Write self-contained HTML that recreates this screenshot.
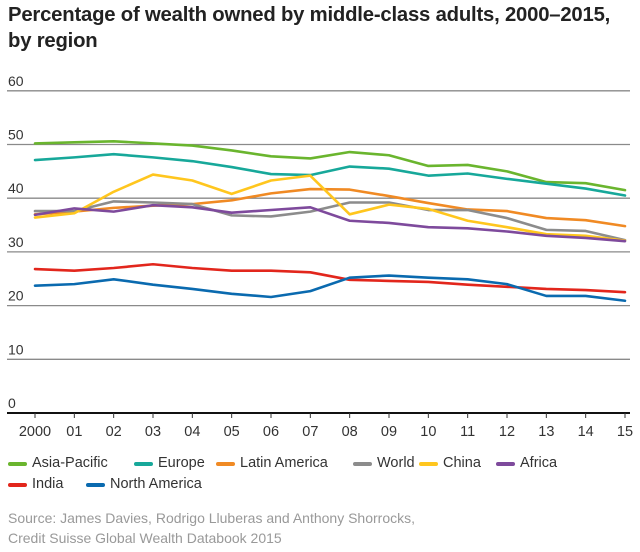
<!DOCTYPE html>
<html><head><meta charset="utf-8"><style>
body{margin:0;width:640px;height:552px;background:#fff;font-family:"Liberation Sans",sans-serif;position:relative;overflow:hidden}
.t{position:absolute;left:8px;top:2px;font-size:20.3px;font-weight:bold;color:#222;line-height:26px;letter-spacing:-0.2px}
.lg{position:absolute;font-size:14.5px;color:#333;line-height:18px;white-space:nowrap}
.sw{position:absolute;width:19px;height:4px;border-radius:2px}
.src{position:absolute;left:8px;top:508px;font-size:14px;color:#999;line-height:20px}
</style></head><body>
<div class="t">Percentage of wealth owned by middle-class adults, 2000–2015,<br>by region</div>
<svg id="c" width="640" height="440" style="position:absolute;left:0;top:0"></svg>
<div id="legend"></div>
<div class="src">Source: James Davies, Rodrigo Lluberas and Anthony Shorrocks,<br>Credit Suisse Global Wealth Databook 2015</div>
<script>
const years=["2000","01","02","03","04","05","06","07","08","09","10","11","12","13","14","15"];
const yTicks=[0,10,20,30,40,50,60];
const names=["Asia-Pacific","Europe","Latin America","World","China","Africa","India","North America"];
const colors=["#6ab52e","#17a89a","#f08a24","#8c8c8c","#ffc61e","#7e4a9c","#e2261c","#0a6aaf"];
const asiaPacific=[50.2,50.4,50.6,50.2,49.8,48.9,47.8,47.4,48.6,48,46,46.2,45,43,42.8,41.5];
const europe=[47.1,47.6,48.2,47.6,46.9,45.8,44.5,44.3,45.9,45.5,44.2,44.6,43.6,42.7,41.8,40.5];
const latinAmerica=[37,37.5,38.2,38.6,38.9,39.6,40.9,41.7,41.6,40.4,39.1,37.9,37.6,36.3,35.9,34.8];
const world=[37.6,37.6,39.4,39.2,38.9,36.8,36.6,37.5,39.2,39.2,37.8,37.8,36.3,34.1,33.9,32.2];
const china=[36.4,37.2,41.2,44.4,43.3,40.8,43.3,44.2,37,38.8,38,35.8,34.6,33.3,33,32.1];
const africa=[36.9,38.1,37.5,38.7,38.3,37.3,37.8,38.3,35.8,35.4,34.6,34.4,33.8,33,32.6,32];
const india=[26.8,26.5,27,27.7,27,26.5,26.5,26.2,24.8,24.6,24.4,23.9,23.5,23.1,22.9,22.5];
const northAmerica=[23.7,24,24.9,23.9,23.1,22.2,21.6,22.7,25.2,25.6,25.2,24.9,24,21.8,21.8,20.9];
const series=[asiaPacific,europe,latinAmerica,world,china,africa,india,northAmerica];
const NS="http://www.w3.org/2000/svg";
const svg=document.getElementById('c');
const x=i=>35+i*(590/15);
const y=v=>413-v*5.37;
function mk(t,a){const e=document.createElementNS(NS,t);for(const k in a)e.setAttribute(k,a[k]);svg.appendChild(e);return e;}
yTicks.forEach(v=>{
  if(v>0){const l=mk('line',{x1:7,x2:630,y1:y(v),y2:y(v),stroke:'#8a8a8a','stroke-width':1.3});
  
  }
  const t=mk('text',{x:8,y:y(v)-5,'font-size':14,fill:'#333','font-family':'Liberation Sans'});
  t.textContent=v;
  
  
});
const ax=mk('line',{x1:7,x2:630,y1:413,y2:413,stroke:'#111','stroke-width':2});


years.forEach((yr,i)=>{
  const tk=mk('line',{x1:x(i),x2:x(i),y1:413,y2:418,stroke:'#333','stroke-width':1});
  
  
  const t=mk('text',{x:x(i),y:436,'font-size':14.5,fill:'#333','text-anchor':'middle','font-family':'Liberation Sans'});
  t.textContent=yr;
  
  
});
series.forEach((s,k)=>{
  const p=mk('polyline',{points:s.map((v,i)=>x(i)+','+y(v)).join(' '),fill:'none',stroke:colors[k],'stroke-width':2.6,'stroke-linejoin':'round','stroke-linecap':'round'});
  
  
});
const lpos=[[8,454],[134,454],[216,454],[353,454],[419,454],[496,454],[8,475],[86,475]];
const lg=document.getElementById('legend');
names.forEach((n,k)=>{
  const sw=document.createElement('div');sw.className='sw';
  sw.style.left=lpos[k][0]+'px';sw.style.top=(lpos[k][1]+8)+'px';sw.style.background=colors[k];
  
  
  lg.appendChild(sw);
  const t=document.createElement('div');t.className='lg';
  t.style.left=(lpos[k][0]+24)+'px';t.style.top=lpos[k][1]+'px';t.textContent=n;
  
  
  lg.appendChild(t);
});
</script>
</body></html>
